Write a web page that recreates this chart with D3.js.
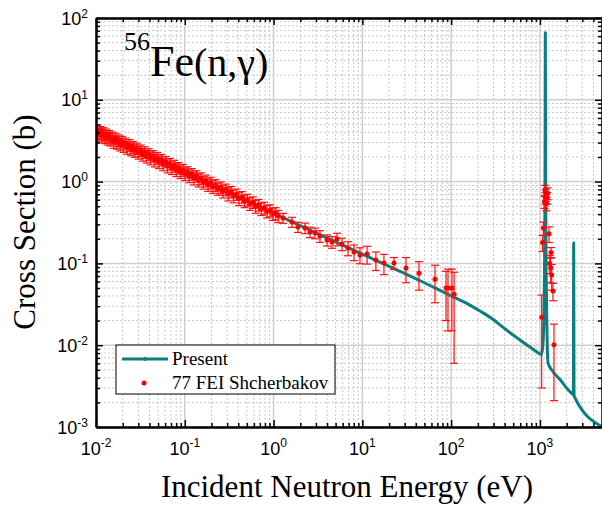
<!DOCTYPE html>
<html>
<head>
<meta charset="utf-8">
<script src="https://cdn.jsdelivr.net/npm/d3@7"></script>
<style>
  body { margin: 0; background: #fff; }
  svg { display: block; }
</style>
</head>
<body>
<svg id="chart" width="602" height="506"></svg>
<script>
// Axis ranges and tick labels
const xDomain = [0.01, 5000];
const yDomain = [0.001, 100];
const xMajorTicks = [1e-2, 1e-1, 1e0, 1e1, 1e2, 1e3];
const xTickExponents = ["-2", "-1", "0", "1", "2", "3"];
const yMajorTicks = [1e-3, 1e-2, 1e-1, 1e0, 1e1, 1e2];
const yTickExponents = ["-3", "-2", "-1", "0", "1", "2"];

// Evaluated capture cross section ("Present"), energy in eV, sigma in barns
const presentEnergy = [0.01, 0.0253, 0.1, 1, 10, 50, 100, 150, 211, 300, 355, 460, 596, 773, 951, 1028,
  1060, 1090, 1110, 1125, 1135, 1142, 1147, 1150, 1153, 1158, 1165, 1175, 1190, 1210, 1233,
  1356, 1682, 2180, 2380, 2400, 2420, 5000];
const presentSigma = [4.12, 2.59, 1.30, 0.41, 0.13, 0.058, 0.040, 0.0325, 0.0262, 0.0205, 0.0177, 0.0142, 0.0116, 0.0095, 0.0081, 0.0077,
  0.0085, 0.012, 0.025, 0.08, 0.3, 2, 20, 66, 20, 2, 0.3, 0.08, 0.025, 0.0095, 0.0061,
  0.0050, 0.0038, 0.0027, 0.0025, 0.177, 0.0024, 0.00101];

// 77 FEI Shcherbakov measurement: energy (eV), cross section (b), uncertainty (b)
const expEnergy = [
  0.0100, 0.0104, 0.0108, 0.0112, 0.0116, 0.0120, 0.0125, 0.0130, 0.0135, 0.0140,
  0.0146, 0.0152, 0.0158, 0.0165, 0.0172, 0.0180, 0.0188, 0.0196, 0.0205, 0.0215,
  0.0225, 0.0236, 0.0248, 0.0260, 0.0273, 0.0287, 0.0302, 0.0318, 0.0335, 0.0353,
  0.0372, 0.0392, 0.0413, 0.0436, 0.0460, 0.0486, 0.0513, 0.0542, 0.0573, 0.0606,
  0.0641, 0.0678, 0.0717, 0.0759, 0.0803, 0.0850, 0.0900, 0.0953, 0.101, 0.107,
  0.113, 0.120, 0.127, 0.135, 0.143, 0.152, 0.162, 0.172, 0.183, 0.195,
  0.208, 0.222, 0.237, 0.253, 0.270, 0.289, 0.309, 0.331, 0.355, 0.380,
  0.408, 0.438, 0.470, 0.505, 0.543, 0.584, 0.628, 0.676, 0.728, 0.784,
  0.845, 0.910, 0.980, 1.05, 1.13,
  1.28, 1.61, 1.88, 2.26, 2.57, 2.93, 3.33, 4.0, 4.55, 5.18,
  5.90, 6.89, 8.05, 9.4, 11.3, 14.2, 17.5, 22.7, 31.0, 43.4,
  65.8, 87.5, 92.1, 102, 108,
  1047, 1070, 1091, 1127, 1140, 1150, 1170, 1185, 1206, 1224,
  1265, 1288, 1322, 1332, 1356, 1402, 1439
];
const expSigma = [
  3.95, 4.22, 3.80, 4.05, 3.70, 3.92, 3.55, 3.78, 3.40, 3.62,
  3.30, 3.47, 3.12, 3.36, 3.02, 3.20, 2.88, 3.07, 2.76, 2.93,
  2.63, 2.80, 2.52, 2.66, 2.40, 2.54, 2.28, 2.41, 2.16, 2.29,
  2.05, 2.17, 1.95, 2.06, 1.84, 1.95, 1.75, 1.85, 1.65, 1.75,
  1.56, 1.65, 1.48, 1.56, 1.40, 1.47, 1.32, 1.39, 1.25, 1.31,
  1.18, 1.24, 1.11, 1.17, 1.05, 1.10, 0.98, 1.03, 0.92, 0.97,
  0.87, 0.91, 0.82, 0.85, 0.76, 0.80, 0.71, 0.75, 0.67, 0.70,
  0.62, 0.65, 0.58, 0.60, 0.54, 0.56, 0.50, 0.52, 0.465, 0.48,
  0.435, 0.445, 0.405, 0.41, 0.38,
  0.359, 0.321, 0.279, 0.271, 0.242, 0.235, 0.216, 0.193, 0.183, 0.199,
  0.173, 0.154, 0.138, 0.127, 0.130, 0.110, 0.101, 0.101, 0.088, 0.076,
  0.064, 0.050, 0.050, 0.050, 0.042,
  0.022, 0.18, 0.27, 0.57, 0.78, 0.63, 0.69, 0.54, 0.63, 0.72,
  0.23, 0.10, 0.088, 0.136, 0.072, 0.046, 0.0101
];
const expError = [
  0.70, 0.69, 0.67, 0.66, 0.65, 0.64, 0.63, 0.61, 0.60, 0.59,
  0.58, 0.57, 0.56, 0.55, 0.53, 0.52, 0.51, 0.50, 0.49, 0.48,
  0.47, 0.46, 0.45, 0.44, 0.42, 0.41, 0.40, 0.39, 0.38, 0.37,
  0.36, 0.35, 0.35, 0.33, 0.33, 0.32, 0.31, 0.30, 0.29, 0.28,
  0.28, 0.27, 0.26, 0.26, 0.25, 0.24, 0.23, 0.23, 0.22, 0.21,
  0.21, 0.20, 0.20, 0.19, 0.19, 0.18, 0.17, 0.17, 0.16, 0.16,
  0.15, 0.15, 0.14, 0.14, 0.13, 0.13, 0.13, 0.12, 0.12, 0.11,
  0.11, 0.105, 0.10, 0.10, 0.095, 0.09, 0.09, 0.085, 0.08, 0.08,
  0.075, 0.075, 0.07, 0.07, 0.065,
  0.05, 0.045, 0.04, 0.04, 0.035, 0.035, 0.035, 0.03, 0.03, 0.035,
  0.03, 0.03, 0.03, 0.028, 0.032, 0.028, 0.028, 0.017, 0.03, 0.029,
  0.031, 0.03, 0.035, 0.035, 0.036,
  0.019, 0.04, 0.05, 0.1, 0.12, 0.1, 0.12, 0.1, 0.1, 0.12,
  0.05, 0.025, 0.03, 0.02, 0.025, 0.011, 0.008
];

const plot = { left: 96, right: 602, top: 18, bottom: 427 };

const svg = d3.select("#chart");
const x = d3.scaleLog().domain(xDomain).range([plot.left, plot.right]);
const y = d3.scaleLog().domain(yDomain).range([plot.bottom, plot.top]);

// Minor tick positions: 2..9 within each decade
function minorTicks(domain) {
  const out = [];
  const k0 = Math.floor(Math.log10(domain[0])), k1 = Math.ceil(Math.log10(domain[1]));
  for (let k = k0; k <= k1; k++) {
    for (let m = 2; m <= 9; m++) {
      const v = m * Math.pow(10, k);
      if (v > domain[0] && v < domain[1]) out.push(v);
    }
  }
  return out;
}
const xMinor = minorTicks(xDomain);
const yMinor = minorTicks(yDomain);

// Grid: dotted minor lines, solid major lines
const grid = svg.append("g");
grid.selectAll(".gxm").data(xMinor).join("line")
  .attr("x1", d => x(d)).attr("x2", d => x(d))
  .attr("y1", plot.top).attr("y2", plot.bottom)
  .attr("stroke", "#c8c8c8").attr("stroke-width", 1).attr("stroke-dasharray", "2,2");
grid.selectAll(".gym").data(yMinor).join("line")
  .attr("x1", plot.left).attr("x2", plot.right)
  .attr("y1", d => y(d)).attr("y2", d => y(d))
  .attr("stroke", "#c8c8c8").attr("stroke-width", 1).attr("stroke-dasharray", "2,2");
grid.selectAll(".gxM").data(xMajorTicks).join("line")
  .attr("x1", d => x(d)).attr("x2", d => x(d))
  .attr("y1", plot.top).attr("y2", plot.bottom)
  .attr("stroke", "#cfcfcf").attr("stroke-width", 1.5);
grid.selectAll(".gyM").data(yMajorTicks).join("line")
  .attr("x1", plot.left).attr("x2", plot.right)
  .attr("y1", d => y(d)).attr("y2", d => y(d))
  .attr("stroke", "#cfcfcf").attr("stroke-width", 1.5);

// Clip to the plotting frame
svg.append("clipPath").attr("id", "plotclip").append("rect")
  .attr("x", plot.left).attr("y", plot.top)
  .attr("width", plot.right - plot.left).attr("height", plot.bottom - plot.top);

const teal = "#0a7f7f";
const present = presentEnergy.map((e, i) => [e, presentSigma[i]]);
const line = d3.line().x(d => x(d[0])).y(d => y(d[1])).curve(d3.curveMonotoneX);
svg.append("path")
  .attr("clip-path", "url(#plotclip)")
  .attr("d", line(present))
  .attr("fill", "none").attr("stroke", teal).attr("stroke-width", 3)
  .attr("stroke-linejoin", "round");

// Experimental points with error bars
const exp = expEnergy.map((e, i) => ({ e, s: expSigma[i], err: expError[i] }));
const eg = svg.append("g").attr("clip-path", "url(#plotclip)");
const lo = d => Math.max(d.s - d.err, 1e-4);
const red = "#ff1010";
eg.selectAll(".eb").data(exp).join("line")
  .attr("x1", d => x(d.e)).attr("x2", d => x(d.e))
  .attr("y1", d => y(d.s + d.err)).attr("y2", d => y(lo(d)))
  .attr("stroke", red).attr("stroke-width", 1.2);
eg.selectAll(".cu").data(exp).join("line")
  .attr("x1", d => x(d.e) - 4).attr("x2", d => x(d.e) + 4)
  .attr("y1", d => y(d.s + d.err)).attr("y2", d => y(d.s + d.err))
  .attr("stroke", red).attr("stroke-width", 1.2);
eg.selectAll(".cl").data(exp).join("line")
  .attr("x1", d => x(d.e) - 4).attr("x2", d => x(d.e) + 4)
  .attr("y1", d => y(lo(d))).attr("y2", d => y(lo(d)))
  .attr("stroke", red).attr("stroke-width", 1.2);
eg.selectAll(".pt").data(exp).join("circle")
  .attr("cx", d => x(d.e)).attr("cy", d => y(d.s)).attr("r", 2.5)
  .attr("fill", "#ff0000");

// Axes: ticks point inward on all four sides
function styleAxis(g) {
  g.select(".domain").attr("stroke", "#000").attr("stroke-width", 2);
  g.selectAll(".tick line").attr("stroke", "#000").attr("stroke-width", 1.5);
  g.selectAll(".tick text").remove();
}
const axes = [
  [() => d3.axisBottom(x), `translate(0,${plot.bottom})`, xMajorTicks, xMinor],
  [() => d3.axisTop(x), `translate(0,${plot.top})`, xMajorTicks, xMinor],
  [() => d3.axisLeft(y), `translate(${plot.left},0)`, yMajorTicks, yMinor],
  [() => d3.axisRight(y), `translate(${plot.right},0)`, yMajorTicks, yMinor]
];
axes.forEach(([make, tr, major, minor]) => {
  svg.append("g").attr("transform", tr)
    .call(make().tickValues(minor).tickSize(-4).tickSizeOuter(0).tickFormat(""))
    .call(styleAxis);
  svg.append("g").attr("transform", tr)
    .call(make().tickValues(major).tickSize(-7).tickSizeOuter(0).tickFormat(""))
    .call(styleAxis);
});

// Tick labels as powers of ten
const labelFont = "'Liberation Sans', Arial, sans-serif";
const xl = svg.append("g").attr("font-family", labelFont).attr("fill", "#000");
xMajorTicks.forEach((v, i) => {
  const t = xl.append("text").attr("x", x(v)).attr("y", 455).attr("text-anchor", "middle")
    .attr("font-size", 18);
  t.append("tspan").text("10");
  t.append("tspan").attr("font-size", 12).attr("dy", -8).text(xTickExponents[i]);
});
const yl = svg.append("g").attr("font-family", labelFont).attr("fill", "#000");
yMajorTicks.forEach((v, i) => {
  const t = yl.append("text").attr("x", 88).attr("y", y(v) + 6.5).attr("text-anchor", "end")
    .attr("font-size", 18);
  t.append("tspan").text("10");
  t.append("tspan").attr("font-size", 12).attr("dy", -7).text(yTickExponents[i]);
});

// Axis titles
const serif = "'Liberation Serif', 'Times New Roman', serif";
svg.append("text").attr("x", (plot.left + plot.right) / 2 - 2).attr("y", 497)
  .attr("text-anchor", "middle").attr("font-family", serif).attr("font-size", 31)
  .text("Incident Neutron Energy (eV)");
svg.append("text").attr("transform", "translate(35,222) rotate(-90)")
  .attr("text-anchor", "middle").attr("font-family", serif).attr("font-size", 31)
  .text("Cross Section (b)");

// Reaction label
const title = svg.append("text").attr("x", 124).attr("y", 76).attr("font-family", serif);
title.append("tspan").attr("font-size", 26).attr("dy", -26).text("56");
title.append("tspan").attr("font-size", 44).attr("dy", 26).text("Fe");
title.append("tspan").attr("font-size", 40).text("(n,γ)");

// Legend
const lg = svg.append("g");
lg.append("rect").attr("x", 116).attr("y", 345).attr("width", 219).attr("height", 49)
  .attr("fill", "#fff").attr("stroke", "#000").attr("stroke-width", 1);
lg.append("line").attr("x1", 122).attr("x2", 168).attr("y1", 359).attr("y2", 359)
  .attr("stroke", teal).attr("stroke-width", 3);
lg.append("circle").attr("cx", 145).attr("cy", 359).attr("r", 2).attr("fill", teal);
lg.append("circle").attr("cx", 144).attr("cy", 383).attr("r", 2.5).attr("fill", "#ff0000");
lg.append("text").attr("x", 172).attr("y", 365).attr("font-family", serif).attr("font-size", 19)
  .text("Present");
lg.append("text").attr("x", 172).attr("y", 389).attr("font-family", serif).attr("font-size", 19)
  .text("77 FEI Shcherbakov");
</script>
</body>
</html>
